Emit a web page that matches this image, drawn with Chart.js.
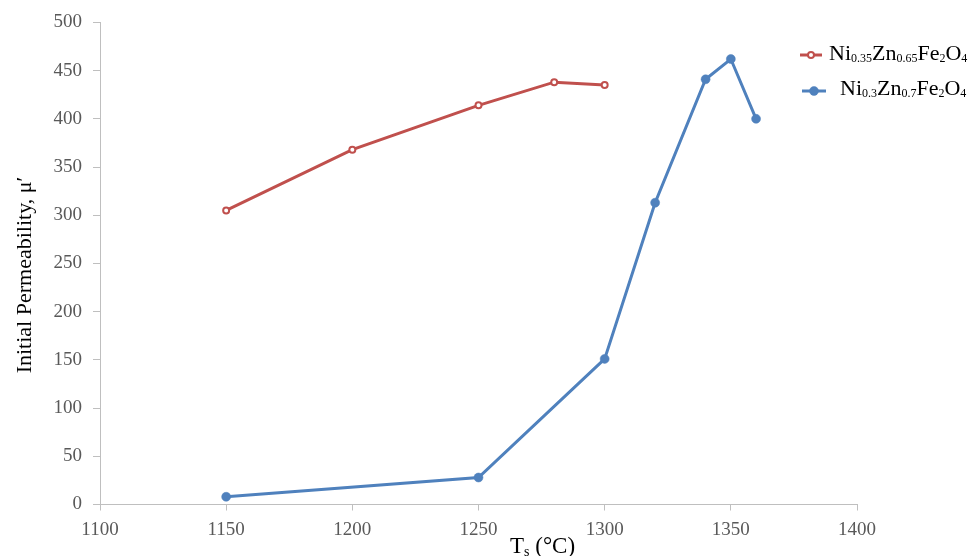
<!DOCTYPE html>
<html>
<head>
<meta charset="utf-8">
<script src="https://cdn.jsdelivr.net/npm/chart.js@4.4.1/dist/chart.umd.min.js"></script>
<style>
  html, body { margin: 0; padding: 0; background: #fff; }
  #wrap { width: 974px; height: 556px; position: relative; }
</style>
</head>
<body>
<div id="wrap"><canvas id="chart" width="974" height="556"></canvas></div>
<script>
// Sintering temperature (°C) vs. initial permeability for two ferrite compositions
const sinterTempsA = [1150, 1200, 1250, 1280, 1300];
const permeabilityA = [305, 368, 414, 438, 435];

const sinterTempsB = [1150, 1250, 1300, 1320, 1340, 1350, 1360];
const permeabilityB = [8, 28, 151, 313, 441, 462, 400];

// Series names split into alternating normal / subscript runs
const seriesNameA = ['Ni', '0.35', 'Zn', '0.65', 'Fe', '2', 'O', '4'];
const seriesNameB = ['Ni', '0.3', 'Zn', '0.7', 'Fe', '2', 'O', '4'];

const xTickValues = [1100, 1150, 1200, 1250, 1300, 1350, 1400];
const yTickValues = [0, 50, 100, 150, 200, 250, 300, 350, 400, 450, 500];

const xTitleParts = ['T', 's', ' (°C)'];
const yTitle = 'Initial Permeability, \u03BC\u2032';

const SERIF = '"Liberation Serif", "Times New Roman", serif';
const RED = '#C0504D';
const BLUE = '#4F81BD';
const AXIS = '#BFBFBF';

function toPoints(xs, ys) {
  return xs.map((x, i) => ({ x: x, y: ys[i] }));
}

// Draws text whose odd-indexed runs are subscripts
function drawRich(ctx, parts, x, y, size, subSize, drop) {
  ctx.textBaseline = 'alphabetic';
  ctx.textAlign = 'left';
  let cx = x;
  parts.forEach((p, i) => {
    const sub = i % 2 === 1;
    ctx.font = (sub ? subSize : size) + 'px ' + SERIF;
    ctx.fillText(p, cx, sub ? y + drop : y);
    cx += ctx.measureText(p).width;
  });
}

const annotations = {
  id: 'annotations',
  afterDraw(chart) {
    const ctx = chart.ctx;
    ctx.save();
    ctx.fillStyle = '#000';

    // y-axis title
    ctx.save();
    ctx.translate(31, 275);
    ctx.rotate(-Math.PI / 2);
    ctx.font = '22px ' + SERIF;
    ctx.textAlign = 'center';
    ctx.textBaseline = 'alphabetic';
    ctx.fillText(yTitle, 0, 0);
    ctx.restore();

    // x-axis title
    drawRich(ctx, xTitleParts, 510, 553, 23, 14, 3);

    // legend
    const entries = [
      { ds: chart.data.datasets[0], parts: seriesNameA, x0: 800, x1: 822, y: 55, tx: 829, ty: 60 },
      { ds: chart.data.datasets[1], parts: seriesNameB, x0: 802, x1: 826, y: 91, tx: 840, ty: 95 }
    ];
    entries.forEach(e => {
      ctx.strokeStyle = e.ds.borderColor;
      ctx.lineWidth = 3;
      ctx.beginPath();
      ctx.moveTo(e.x0, e.y);
      ctx.lineTo(e.x1, e.y);
      ctx.stroke();
      const mx = (e.x0 + e.x1) / 2;
      ctx.beginPath();
      ctx.arc(mx, e.y, e.ds.pointRadius, 0, Math.PI * 2);
      ctx.fillStyle = e.ds.pointBackgroundColor;
      ctx.fill();
      ctx.lineWidth = e.ds.pointBorderWidth;
      ctx.strokeStyle = e.ds.pointBorderColor;
      ctx.stroke();
      ctx.fillStyle = '#000';
      drawRich(ctx, e.parts, e.tx, e.ty, 22, 12, 2);
    });
    ctx.restore();
  }
};

new Chart(document.getElementById('chart'), {
  type: 'scatter',
  data: {
    datasets: [
      {
        label: seriesNameA.join(''),
        data: toPoints(sinterTempsA, permeabilityA),
        showLine: true,
        borderColor: RED,
        borderWidth: 3,
        pointRadius: 3,
        pointBorderWidth: 2,
        pointBorderColor: RED,
        pointBackgroundColor: '#FFFFFF',
        tension: 0
      },
      {
        label: seriesNameB.join(''),
        data: toPoints(sinterTempsB, permeabilityB),
        showLine: true,
        borderColor: BLUE,
        borderWidth: 3,
        pointRadius: 4.5,
        pointBorderWidth: 0.5,
        pointBorderColor: BLUE,
        pointBackgroundColor: BLUE,
        tension: 0
      }
    ]
  },
  options: {
    responsive: false,
    animation: false,
    devicePixelRatio: 1,
    layout: { padding: { left: 0, right: 117, top: 22, bottom: 0 } },
    plugins: {
      legend: { display: false },
      tooltip: { enabled: false }
    },
    scales: {
      x: {
        type: 'linear',
        position: 'bottom',
        min: 1100,
        max: 1400,
        afterBuildTicks(scale) { scale.ticks = xTickValues.map(v => ({ value: v })); },
        afterFit(scale) { scale.height = 51.5; },
        grid: { display: true, drawOnChartArea: false, drawTicks: true, tickLength: 6, color: AXIS },
        border: { display: true, color: AXIS, width: 1 },
        ticks: {
          padding: 8,
          color: '#595959',
          font: { family: SERIF, size: 19 },
          callback: v => String(v)
        }
      },
      y: {
        type: 'linear',
        min: 0,
        max: 500,
        afterBuildTicks(scale) { scale.ticks = yTickValues.map(v => ({ value: v })); },
        afterFit(scale) { scale.width = 100; },
        grid: { display: true, drawOnChartArea: false, drawTicks: true, tickLength: 7, color: AXIS },
        border: { display: true, color: AXIS, width: 1 },
        ticks: {
          padding: 11,
          color: '#595959',
          font: { family: SERIF, size: 19 },
          callback: v => String(v)
        }
      }
    }
  },
  plugins: [annotations]
});
</script>
</body>
</html>
